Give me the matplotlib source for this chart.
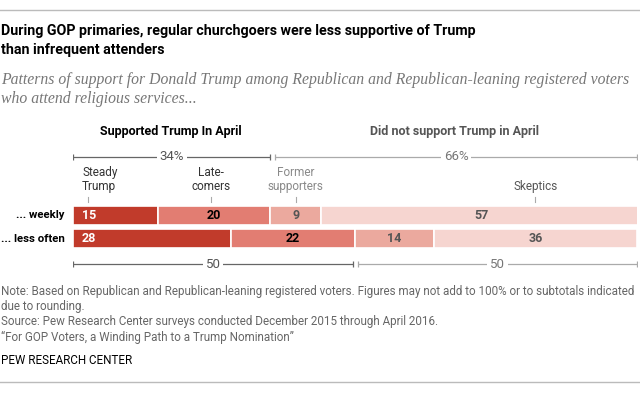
import matplotlib
matplotlib.use("Agg")
import matplotlib.pyplot as plt
from matplotlib.lines import Line2D

# ---- data ----
rows = ["... weekly", "... less often"]
segments = ["Steady\nTrump", "Late-\ncomers", "Former\nsupporters", "Skeptics"]
steady = [15, 28]
latecomers = [20, 22]
former = [9, 14]
skeptics = [57, 36]
top_groups = ["Supported Trump In April", "Did not support Trump in April"]
top_totals = ["34%", "66%"]
bottom_totals = ["50", "50"]

colors = ["#C13B2B", "#E27D72", "#EBA99E", "#F6D5D0"]
label_colors = ["white", "black", "#555555", "#555555"]

W, H = 640, 395
fig = plt.figure(figsize=(6.4, 3.95), dpi=100)
fig.patch.set_facecolor("white")

SANS = ["Roboto", "DejaVu Sans"]
SERIF = ["Liberation Serif", "DejaVu Serif"]


def ftext(x, y, s, **kw):
    """text in figure pixel coordinates (y from top)"""
    kw.setdefault("family", SANS)
    return fig.text(x / W, 1 - y / H, s, **kw)


def hline(y, x0=0, x1=W, color="#BBBBBB", lw=1.0):
    fig.add_artist(Line2D([x0 / W, x1 / W], [1 - y / H, 1 - y / H],
                          transform=fig.transFigure, color=color, lw=lw))


# ---- header ----
hline(10)
ftext(1, 31, "During GOP primaries, regular churchgoers were less supportive of Trump",
      fontsize=10.3, fontweight="bold", va="center", color="black")
ftext(1, 50, "than infrequent attenders", fontsize=10.3, fontweight="bold",
      va="center", color="black")
ftext(1, 80, "Patterns of support for Donald Trump among Republican and Republican-leaning registered voters",
      family=SERIF, style="italic", fontsize=11.3, va="center", color="#777777")
ftext(1, 99, "who attend religious services...", family=SERIF, style="italic",
      fontsize=11.3, va="center", color="#777777")

# ---- bar axes ----
x_left, x_right = 73, 637
y_top, y_bot = 140, 280
row0, pitch = 215.5, 23.0
ax = fig.add_axes([x_left / W, 1 - y_bot / H, (x_right - x_left) / W, (y_bot - y_top) / H])
ax.set_xlim(0, 100)
ax.set_ylim((y_bot - row0) / pitch, (y_top - row0) / pitch)
ax.axis("off")

series = [steady, latecomers, former, skeptics]
ypos = list(range(len(rows)))
lefts = [0] * len(rows)
for si, vals in enumerate(series):
    ax.barh(ypos, vals, left=lefts, height=0.83, color=colors[si],
            edgecolor="white", linewidth=1.2)
    for ri, v in enumerate(vals):
        if si == 0:
            ax.text(lefts[ri] + 1.6, ypos[ri], str(v), ha="left", va="center",
                    color=label_colors[si], fontsize=9, fontweight="bold", family=SANS)
        else:
            ax.text(lefts[ri] + v / 2, ypos[ri], str(v), ha="center", va="center",
                    color=label_colors[si], fontsize=9, fontweight="bold", family=SANS)
    lefts = [l + v for l, v in zip(lefts, vals)]

# row labels
for ri, r in enumerate(rows):
    ax.text(-1.5, ypos[ri], r, ha="right", va="center", fontsize=8.2,
            fontweight="bold", color="black", family=SANS, clip_on=False)

# segment labels with small ticks
cum_w = [0]
for vals in series:
    cum_w.append(cum_w[-1] + vals[0])
cum_l = [0]
for vals in series:
    cum_l.append(cum_l[-1] + vals[1])
seg_x = [2.7, (cum_w[1] + cum_w[2]) / 2 - 0.5, (cum_w[2] + cum_w[3]) / 2,
         (cum_l[3] + cum_l[4]) / 2]
tick_top = (197 - row0) / pitch
tick_bot = (202 - row0) / pitch
lab_y = (193 - row0) / pitch
for s, x in zip(segments, seg_x):
    col = "#333333"
    if s.startswith("Former"):
        col = "#8A8A8A"
    if s.startswith("Skeptics"):
        col = "#555555"
    ax.plot([x, x], [tick_top, tick_bot], color="#AAAAAA", lw=0.8)
    if s.startswith("Steady"):
        ax.text(1.6, lab_y, s, ha="left", va="bottom", fontsize=8.5, color=col,
                family=SANS, linespacing=1.1, multialignment="left")
    else:
        ax.text(x, lab_y, s, ha="center", va="bottom", fontsize=8.5, color=col,
                family=SANS, linespacing=1.1)


def bracket(x0, x1, y, label, color, tcolor):
    ax.plot([x0, x1], [y, y], color=color, lw=0.9, solid_capstyle="butt")
    ax.plot([x0, x1], [y, y], linestyle="none", marker="|", markersize=4,
            color=color, mew=0.9)
    ax.text((x0 + x1) / 2, y, label, ha="center", va="center", fontsize=9.5,
            color=tcolor, family=SANS,
            bbox=dict(facecolor="white", edgecolor="none", pad=2))


top_y = (157 - row0) / pitch
bot_y = (264 - row0) / pitch
sup_w = steady[0] + latecomers[0]
bracket(0, sup_w, top_y, top_totals[0], "#666666", "#555555")
bracket(sup_w + 0.9, 100, top_y, top_totals[1], "#AAAAAA", "#777777")
sup_l = steady[1] + latecomers[1]
bracket(0, sup_l - 0.3, bot_y, bottom_totals[0], "#666666", "#555555")
bracket(sup_l + 0.6, 100, bot_y, bottom_totals[1], "#AAAAAA", "#777777")

# group headers
ftext(171, 131, top_groups[0], ha="center", va="center", fontsize=9,
      fontweight="bold", color="black")
ftext(454, 131, top_groups[1], ha="center", va="center", fontsize=9,
      fontweight="bold", color="#555555")

# ---- notes ----
notes = [
    "Note: Based on Republican and Republican-leaning registered voters. Figures may not add to 100% or to subtotals indicated",
    "due to rounding.",
    "Source: Pew Research Center surveys conducted December 2015 through April 2016.",
    "\u201cFor GOP Voters, a Winding Path to a Trump Nomination\u201d",
]
for i, n in enumerate(notes):
    ftext(1, 291 + i * 15.5, n, fontsize=8.35, va="center", color="#666666")
ftext(1, 360, "PEW RESEARCH CENTER", fontsize=8.35, va="center", color="black")
hline(382)

fig.savefig("out.png", dpi=100, facecolor="white")
